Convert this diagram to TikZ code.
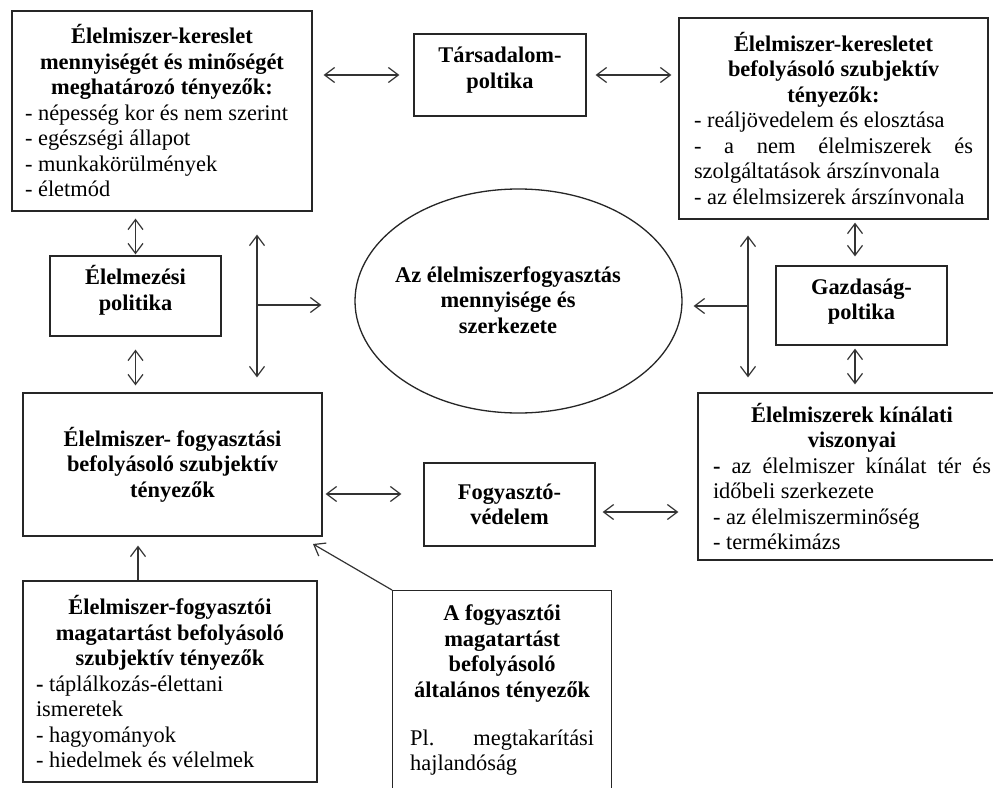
\documentclass[tikz,border=0pt]{standalone}
\usepackage{fontspec}
\setmainfont{Liberation Serif}
\usetikzlibrary{arrows.meta,shapes.geometric}
\begin{document}
\begin{tikzpicture}[x=1pt,y=-1pt,
  font=\fontsize{22.4}{25.5}\selectfont,
  execute at begin node={\setlength{\parindent}{0pt}\hyphenpenalty=10000 \exhyphenpenalty=10000 },
  >={Straight Barb[length=10pt,width=15pt]},
  box/.style={draw=black!85, line width=1.3pt, rectangle, inner sep=0pt, fill=white},
  title/.style={font=\fontsize{22.4}{25.5}\selectfont\bfseries, align=center},
  link/.style={draw=black!80, line width=1.2pt},
]
\clip (0,0) rectangle (993,787);
\fill[white] (0,0) rectangle (993,787);

% --- boxes ---------------------------------------------------------------
\node[box, minimum width=300, minimum height=200, text width=274, align=flush left] (b1) at (162,111)
  {{\centering\bfseries Élelmiszer-kereslet\\ mennyiségét és minőségét\\ meghatározó tényezők:\par}
   - népesség kor és nem szerint\\ - egészségi állapot\\ - munkakörülmények\\ - életmód};

\node[box, title, minimum width=172, minimum height=82, text depth=14.5pt] (tars) at (500,75)
  {Társadalom-\\poltika};

\node[box, minimum width=309, minimum height=201, text width=279, align=flush left] (b2) at (833.5,118.5)
  {{\centering\bfseries Élelmiszer-keresletet\\ befolyásoló szubjektív\\ tényezők:\par}
   - reáljövedelem és elosztása\\
   -\hfill a\hfill nem\hfill élelmiszerek\hfill és\\
   szolgáltatások árszínvonala\\
   - az élelmsizerek árszínvonala};

\node[box, title, minimum width=171, minimum height=80, text depth=16pt] (elel) at (135.5,296)
  {Élelmezési\\politika};

\node[draw=black!85, line width=1.3pt, ellipse, inner sep=0pt,
      minimum width=327, minimum height=224] (ell) at (518.5,301) {};
\node[title] (ellt) at (508,300)
  {Az élelmiszerfogyasztás\\ mennyisége és\\ szerkezete};

\node[box, title, minimum width=171, minimum height=79, text depth=12.5pt] (gazd) at (861.5,305.5)
  {Gazdaság-\\poltika};

\node[box, title, minimum width=299, minimum height=143] (b3) at (172.5,464.5)
  {Élelmiszer- fogyasztási\\ befolyásoló szubjektív\\ tényezők};

\node[box, title, minimum width=171, minimum height=83] (fogy) at (509.5,504.5)
  {Fogyasztó-\\védelem};

\node[box, minimum width=308, minimum height=167, text width=278, align=flush left] (b4) at (852,476.5)
  {{\centering\bfseries Élelmiszerek kínálati\\ viszonyai\par}
   \textbf{-}\hfill az\hfill élelmiszer\hfill kínálat\hfill tér\hfill és\\
   időbeli szerkezete\\
   - az élelmiszerminőség\\
   - termékimázs};

\node[box, minimum width=294, minimum height=201, text width=268, align=flush left] (b5) at (170,681.5)
  {{\centering\bfseries Élelmiszer-fogyasztói\\ magatartást befolyásoló\\ szubjektív tényezők\par}
   \textbf{-} táplálkozás-élettani\\ ismeretek\\ - hagyományok\\ - hiedelmek és vélelmek};

\node[box, anchor=north west, minimum width=219, minimum height=215] (b6) at (392,590) {};
\node[anchor=north, text width=184, align=flush left, inner sep=0pt] (b6t) at ([yshift=-15pt]b6.north)
  {{\centering\bfseries A fogyasztói\\ magatartást\\ befolyásoló\\ általános tényezők\par}
   \vspace{22.5pt}Pl.\hfill megtakarítási\\ hajlandóság};

% --- junction points of the side connectors --------------------------------
\coordinate (lj) at (257,305);
\coordinate (rj) at (748,306);
\coordinate (gx) at (855,305);
\coordinate (dtip) at (313,544);

% --- connectors ------------------------------------------------------------
\draw[link,<->,shorten <=11pt,shorten >=14pt] (b1.east |- tars.west) -- (tars.west);
\draw[link,<->,shorten <=9pt,shorten >=7pt] (tars.east) -- (tars.east -| b2.west);

\draw[link,<->,shorten <=7pt,shorten >=1pt] (elel.north |- b1.south) -- (elel.north);
\draw[link,<->,shorten <=13pt,shorten >=7pt] (elel.south) -- (elel.south |- b3.north);

\draw[link,<->,shorten <=23pt,shorten >=15pt] (b1.south -| lj) -- (b3.north -| lj);
\draw[link,->,shorten >=33pt] (lj) -- (lj -| ell.west);

\draw[link,<->,shorten <=16pt,shorten >=15pt] (b2.south -| rj) -- (b4.north -| rj);
\draw[link,->,shorten >=11pt] (rj) -- (rj -| ell.east);

\draw[link,<->,shorten <=3pt,shorten >=9pt] (gx |- b2.south) -- (gx |- gazd.north);
\draw[link,<->,shorten <=3pt,shorten >=8pt] (gx |- gazd.south) -- (gx |- b4.north);

\draw[link,<->,shorten <=3pt,shorten >=22pt] ([yshift=-29.5pt]b3.east) -- ([yshift=-29.5pt]b3.east -| fogy.west);
\draw[link,<->,shorten <=7pt,shorten >=19pt] ([yshift=-7.5pt]fogy.east) -- ([yshift=-7.5pt]fogy.east -| b4.west);

\draw[link,->,shorten >=9pt] ([xshift=-32pt]b5.north) -- ([xshift=-32pt]b5.north |- b3.south);
\draw[link,->] (b6.north west) -- (dtip);
\end{tikzpicture}
\end{document}
